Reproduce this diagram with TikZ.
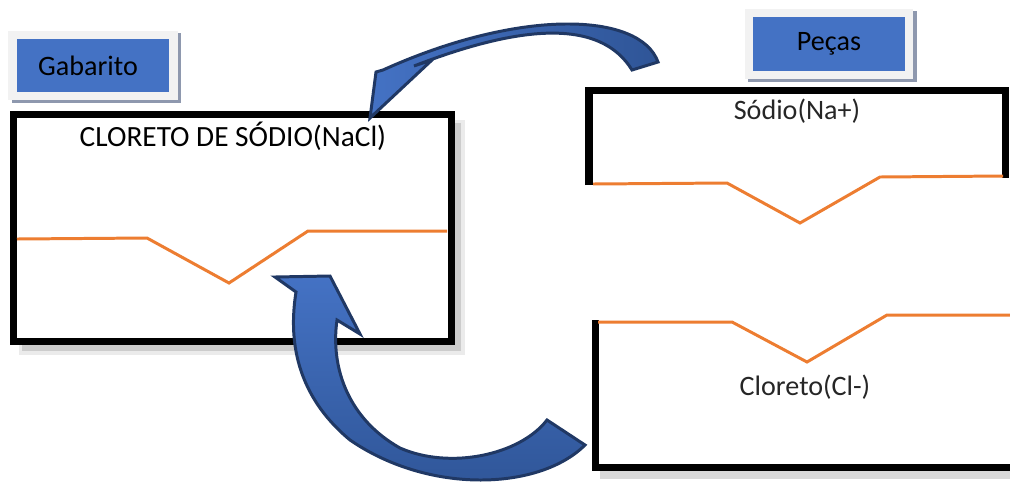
\documentclass[tikz,border=0pt]{standalone}
\usepackage{fontspec}
\setmainfont{Carlito}
\usetikzlibrary{positioning, fit, backgrounds, shadows}
\definecolor{tagblue}{HTML}{4472C4}
\definecolor{arrowedge}{HTML}{203864}
\definecolor{arrowdark}{HTML}{2F5597}
\definecolor{waveorange}{HTML}{ED7D31}
\definecolor{tagshadow}{HTML}{8E98AE}

\begin{document}
\begin{tikzpicture}[x=0.02cm, y=-0.02cm,
  font=\fontsize{16}{19}\selectfont,
  tag/.style={fill=tagblue, minimum width=3.04cm, minimum height=1.08cm, inner sep=0pt},
  tagframe/.style={fill=black!5, inner sep=0pt,
    drop shadow={shadow xshift=0.07cm, shadow yshift=-0.05cm, fill=tagshadow, opacity=1}},
  outline/.style={draw=black, line width=4pt, line join=miter},
  wave/.style={draw=waveorange, line width=1.7pt, line join=miter},
  partname/.style={text=black!85},
  bigarrow/.style={draw=arrowedge, line width=1.7pt, line join=miter}
]
\useasboundingbox (0,0) rectangle (1010,484);

% tags
\node[tag] (gab) at (93,65.5) {\hspace*{-0.2cm}Gabarito};
\node[tag] (pecas) at (829,44) {Peças};
\begin{scope}[on background layer]
\node[tagframe, fit=(gab), inner xsep=0.17cm, inner ysep=0.15cm] (gabframe) {};
\node[tagframe, fit=(pecas), inner xsep=0.16cm, inner ysep=0.16cm] (pecasframe) {};
\end{scope}

% gabarito (NaCl)
\fill[black!8] (19,120) rectangle (465,355);
\fill[black!20] (22,123) rectangle (461,351);
\path[outline, fill=white] (13.5,114.5) rectangle (451.5,341.5);
\node (nacl) at (233,136) {\fontsize{16.7}{19}\selectfont CLORETO DE SÓDIO(NaCl)};
\draw[wave] (17,239) -- (147,238) -- (229,283) -- (308,231) -- (447,231);

% sodio
\draw[outline] (589,185) -- (589,90.5) -- (1005,90.5) -- (1005,178);
\node[partname] (na) at (797,111) {Sódio(Na+)};
\draw[wave] (593,184) -- (727,183) -- (800,223) -- (880,177) -- (1003,176);

% cloreto
\draw[black!15, line width=4pt] (600,475) -- (1010,475);
\draw[outline] (595.5,320) -- (595.5,467.5) -- (1010,467.5);
\node[partname] (cl) at (805,387) {Cloreto(Cl-)};
\draw[wave] (598,322) -- (732,322) -- (807,362) -- (887,315) -- (1010,315);

% arrows
\path[bigarrow, left color=tagblue, right color=arrowdark]
  (658,62) .. controls (640,12) and (520,8) .. (383,70) -- (376,72) -- (370,118)
  -- (432,60) -- (414,66) .. controls (520,25) and (600,18) .. (632,70) -- cycle;
\path[bigarrow, top color=tagblue, bottom color=arrowdark]
  (585,445) .. controls (540,490) and (430,495) .. (350,440)
  .. controls (290,390) and (290,330) .. (296,292) -- (275,277) -- (330,276)
  -- (360,334) -- (337,320) .. controls (330,370) and (350,420) .. (400,448)
  .. controls (450,470) and (520,455) .. (547,420) -- cycle;
\end{tikzpicture}
\end{document}
